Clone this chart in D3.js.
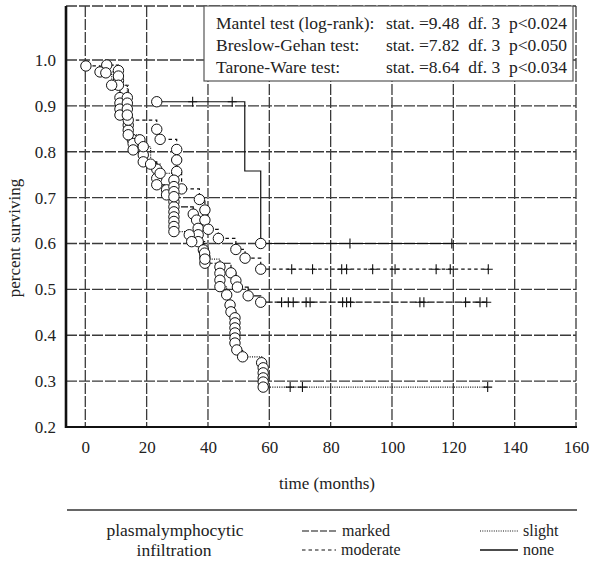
<!DOCTYPE html>
<html>
<head>
<meta charset="utf-8">
<script src="https://cdn.jsdelivr.net/npm/d3@7"></script>
<style>
  body { margin: 0; background: #fff; }
  text { font-family: "Liberation Serif", "Times New Roman", serif; fill: #222; }
</style>
</head>
<body>
<svg id="chart" width="593" height="562"></svg>
<script>
// survival data: [months, proportion surviving]
var markedEvents = [
  [7.0, 0.989], [10.8, 0.977], [10.8, 0.955], [11.3, 0.918], [11.3, 0.906], [11.3, 0.893],
  [11.3, 0.880], [14.0, 0.858], [14.0, 0.847], [15.3, 0.827], [15.6, 0.818], [15.6, 0.804],
  [18.9, 0.793], [18.9, 0.778], [23.3, 0.762], [23.3, 0.742], [23.3, 0.728], [26.5, 0.717],
  [26.5, 0.706], [28.9, 0.691], [28.9, 0.680], [35.2, 0.664], [36.3, 0.651], [36.8, 0.633],
  [36.8, 0.619], [36.8, 0.604], [38.5, 0.586], [39.0, 0.571], [39.0, 0.557], [47.5, 0.536],
  [49.1, 0.519], [49.6, 0.505], [53.1, 0.486], [57.2, 0.472]
];
var markedCensored = [64.0, 66.2, 67.8, 72.0, 73.3, 83.9, 85.2, 86.5, 109.1, 110.4, 124.0, 128.7, 130.9];

var moderateEvents = [
  [0.2, 0.987], [4.8, 0.974], [10.8, 0.965], [10.8, 0.945], [14.0, 0.869], [23.3, 0.849],
  [24.4, 0.827], [29.8, 0.805], [29.8, 0.782], [29.8, 0.757], [31.4, 0.719], [37.2, 0.696],
  [39.0, 0.673], [39.0, 0.651], [40.1, 0.631], [43.4, 0.611], [49.1, 0.587], [52.1, 0.568],
  [57.2, 0.544]
];
var moderateCensored = [67.3, 74.1, 83.6, 85.2, 93.7, 101.0, 114.4, 119.0, 131.4];

var slightEvents = [
  [6.7, 0.972], [8.6, 0.945], [13.7, 0.918], [13.7, 0.906], [13.7, 0.893], [13.7, 0.880],
  [14.0, 0.837], [17.8, 0.826], [18.9, 0.811], [21.3, 0.773], [24.4, 0.753], [28.9, 0.738],
  [28.9, 0.724], [28.9, 0.713], [28.9, 0.702], [28.9, 0.669], [28.9, 0.658], [28.9, 0.648],
  [28.9, 0.637], [28.9, 0.626], [33.9, 0.619], [34.7, 0.604], [38.9, 0.579], [39.0, 0.566],
  [43.9, 0.549], [43.9, 0.535], [43.9, 0.520], [43.9, 0.506], [46.1, 0.488], [47.2, 0.466],
  [47.5, 0.451], [48.8, 0.438], [48.8, 0.427], [48.8, 0.416], [48.8, 0.405], [48.8, 0.394],
  [48.8, 0.383], [49.4, 0.368], [51.3, 0.353], [57.5, 0.340], [58.0, 0.329], [58.0, 0.318],
  [58.0, 0.307], [58.0, 0.298], [58.0, 0.287]
];
var slightCensored = [66.8, 70.8, 131.2];

// third value 0 = step drawn without a circle
var noneEvents = [[23.3, 0.909], [52.0, 0.758, 0], [57.2, 0.600]];
var noneCensored = [35.0, 47.9, 86.3, 119.5];

var groupNames = ["marked", "moderate", "slight", "none"];
var xTicks = [0, 20, 40, 60, 80, 100, 120, 140, 160];
var yTicks = [0.2, 0.3, 0.4, 0.5, 0.6, 0.7, 0.8, 0.9, 1.0];
var statLabels = ["Mantel test (log-rank):", "Breslow-Gehan test:", "Tarone-Ware test:"];
var statValues = ["stat. =9.48  df. 3  p<0.024", "stat. =7.82  df. 3  p<0.050", "stat. =8.64  df. 3  p<0.034"];

(function () {
  var svg = d3.select("#chart");
  var left = 66, right = 576, top = 6, bottom = 427;

  var x = d3.scaleLinear().domain([0, 160]).range([85.3, 576]);
  var y = d3.scaleLinear().domain([0.2, 1.0]).range([427, 60]);

  var dashes = { marked: "7,2", moderate: "3.5,3", slight: "1,1.3", none: null };
  var groups = [
    { name: "marked", events: markedEvents, censored: markedCensored },
    { name: "moderate", events: moderateEvents, censored: moderateCensored },
    { name: "slight", events: slightEvents, censored: slightCensored },
    { name: "none", events: noneEvents, censored: noneCensored }
  ];

  // grid
  var grid = svg.append("g")
    .attr("stroke", "#3a3a3a").attr("stroke-width", 1.3).attr("stroke-dasharray", "11,2");
  grid.selectAll(".vg").data(xTicks).enter().append("line")
    .attr("x1", function (d) { return x(d); }).attr("x2", function (d) { return x(d); })
    .attr("y1", top).attr("y2", bottom);
  grid.selectAll(".hg").data(yTicks.slice(1)).enter().append("line")
    .attr("x1", left).attr("x2", right)
    .attr("y1", function (d) { return y(d); }).attr("y2", function (d) { return y(d); });
  grid.append("line").attr("x1", left).attr("x2", right).attr("y1", top).attr("y2", top);

  // frame: heavy left and bottom
  svg.append("line").attr("x1", left).attr("x2", left).attr("y1", top).attr("y2", bottom + 1)
    .attr("stroke", "#111").attr("stroke-width", 2.6);
  svg.append("line").attr("x1", left - 1).attr("x2", right + 1).attr("y1", bottom).attr("y2", bottom)
    .attr("stroke", "#111").attr("stroke-width", 2);

  // axes
  var xAxis = svg.append("g").attr("transform", "translate(0," + bottom + ")")
    .call(d3.axisBottom(x).tickValues(xTicks).tickSize(0).tickPadding(14).tickFormat(d3.format("d")));
  var yAxis = svg.append("g").attr("transform", "translate(" + left + ",0)")
    .call(d3.axisLeft(y).tickValues(yTicks).tickSize(0).tickPadding(10).tickFormat(d3.format(".1f")));
  [xAxis, yAxis].forEach(function (a) {
    a.select(".domain").remove();
    a.selectAll("text").attr("font-family", null).style("font-size", "17px").attr("fill", "#222");
  });

  svg.append("text").attr("transform", "translate(20,238) rotate(-90)")
    .attr("text-anchor", "middle").style("font-size", "17px").text("percent surviving");
  svg.append("text").attr("x", 327).attr("y", 489)
    .attr("text-anchor", "middle").style("font-size", "17px").text("time (months)");

  // survival curves
  var line = d3.line()
    .x(function (d) { return x(d[0]); })
    .y(function (d) { return y(d[1]); })
    .curve(d3.curveStepAfter);

  groups.forEach(function (g) {
    var last = g.events[g.events.length - 1];
    var pts = g.events.map(function (d) { return [d[0], d[1]]; });
    pts.push([d3.max(g.censored.concat([last[0]])), last[1]]);
    svg.append("path").datum(pts).attr("d", line)
      .attr("fill", "none").attr("stroke", "#111").attr("stroke-width", 1.2)
      .attr("stroke-dasharray", dashes[g.name]);
  });

  // censored marks
  groups.forEach(function (g) {
    var marks = g.censored.map(function (t) {
      var s = g.events[0][1];
      g.events.forEach(function (e) { if (e[0] <= t) s = e[1]; });
      return [t, s];
    });
    svg.selectAll(null).data(marks).enter().append("path")
      .attr("d", function (d) {
        var cx = x(d[0]), cy = y(d[1]);
        return "M" + (cx - 4.5) + "," + cy + "H" + (cx + 4.5) + "M" + cx + "," + (cy - 5) + "V" + (cy + 5);
      })
      .attr("stroke", "#111").attr("stroke-width", 1.1).attr("fill", "none");
  });

  // event circles
  groups.forEach(function (g) {
    svg.selectAll(null).data(g.events.filter(function (d) { return d[2] !== 0; })).enter()
      .append("circle")
      .attr("cx", function (d) { return x(d[0]); })
      .attr("cy", function (d) { return y(d[1]); })
      .attr("r", 5.2)
      .attr("fill", "#fff").attr("stroke", "#111").attr("stroke-width", 1);
  });

  // statistics box
  var box = svg.append("g");
  box.append("rect").attr("x", 204).attr("y", 6).attr("width", 369).attr("height", 75)
    .attr("fill", "#fff").attr("stroke", "#555").attr("stroke-width", 1.2);
  statLabels.forEach(function (lab, i) {
    box.append("text").attr("x", 216).attr("y", 29 + i * 22).style("font-size", "17.5px").text(lab);
    box.append("text").attr("x", 567).attr("y", 29 + i * 22).attr("text-anchor", "end")
      .style("font-size", "17.5px").text(statValues[i].replace(/  /g, "\u00a0\u00a0"));
  });

  // legend
  svg.append("line").attr("x1", 67).attr("x2", 577).attr("y1", 510).attr("y2", 510)
    .attr("stroke", "#333").attr("stroke-width", 1.5);
  svg.append("text").attr("x", 175).attr("y", 536).attr("text-anchor", "middle")
    .style("font-size", "17.5px").text("plasmalymphocytic");
  svg.append("text").attr("x", 174).attr("y", 556).attr("text-anchor", "middle")
    .style("font-size", "17.5px").text("infiltration");

  var legendPos = {
    marked: [302, 337, 531], moderate: [302, 336, 550],
    slight: [480, 518, 531], none: [480, 518, 550]
  };
  groupNames.forEach(function (name) {
    var p = legendPos[name];
    svg.append("line").attr("x1", p[0]).attr("x2", p[1]).attr("y1", p[2]).attr("y2", p[2])
      .attr("stroke", "#111").attr("stroke-width", name === "none" ? 1.4 : 1.2)
      .attr("stroke-dasharray", dashes[name]);
    svg.append("text").attr("x", p[1] + 5).attr("y", p[2] + 5).style("font-size", "16px").text(name);
  });
})();
</script>
</body>
</html>
